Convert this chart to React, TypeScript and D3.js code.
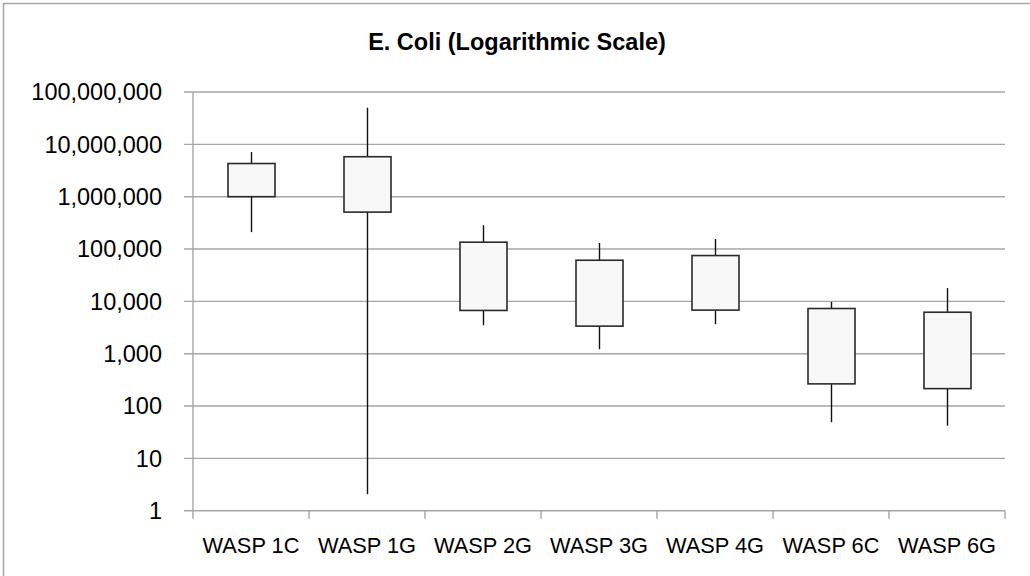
import React, { useEffect, useRef } from "react";
import * as d3 from "d3";

const sites = ["WASP 1C", "WASP 1G", "WASP 2G", "WASP 3G", "WASP 4G", "WASP 6C", "WASP 6G"];
const highs = [7100000, 50000000, 286000, 130000, 155000, 9800, 17900];
const boxTops = [4300000, 5800000, 135000, 61000, 75000, 7300, 6200];
const boxBottoms = [1000000, 507000, 6700, 3360, 6800, 265, 215];
const lows = [210000, 2.06, 3500, 1220, 3660, 49, 42];
const yTicks = [1, 10, 100, 1000, 10000, 100000, 1000000, 10000000, 100000000];

export default function App() {
  const ref = useRef<SVGSVGElement>(null);

  useEffect(() => {
    const svg = d3.select(ref.current);
    svg.selectAll("*").remove();

    const W = 1030, H = 576;
    const left = 193, right = 1005, top = 92, bottom = 510.7;
    const font = "'Liberation Sans', Arial, sans-serif";

    // chart border
    svg.append("rect")
      .attr("x", 3.5).attr("y", 3.5)
      .attr("width", W + 10).attr("height", H + 10)
      .attr("fill", "white")
      .attr("stroke", "#a6a6a6")
      .attr("stroke-width", 1.5);

    svg.append("text")
      .attr("x", 517).attr("y", 50)
      .attr("text-anchor", "middle")
      .style("font-family", font)
      .style("font-weight", "bold")
      .style("font-size", "23.5px")
      .text("E. Coli (Logarithmic Scale)");

    const x = d3.scaleBand().domain(sites).range([left, right]);
    const y = d3.scaleLog().domain([1, 100000000]).range([bottom, top]);

    // gridlines
    svg.append("g")
      .selectAll("line")
      .data(yTicks)
      .join("line")
      .attr("x1", left - 9).attr("x2", right)
      .attr("y1", d => y(d)).attr("y2", d => y(d))
      .attr("stroke", "#a6a6a6")
      .attr("stroke-width", 1.4);

    svg.append("g")
      .selectAll("text")
      .data(yTicks)
      .join("text")
      .attr("x", 162).attr("y", d => y(d))
      .attr("dy", "0.36em")
      .attr("text-anchor", "end")
      .style("font-family", font)
      .style("font-size", "23.5px")
      .text(d => d3.format(",")(d));

    // axes lines
    svg.append("line")
      .attr("x1", left).attr("x2", left)
      .attr("y1", top).attr("y2", bottom)
      .attr("stroke", "#a6a6a6").attr("stroke-width", 1.4);

    const bounds = sites.map(s => x(s) as number).concat([right]);
    svg.append("g")
      .selectAll("line")
      .data(bounds)
      .join("line")
      .attr("x1", d => d).attr("x2", d => d)
      .attr("y1", bottom).attr("y2", bottom + 8)
      .attr("stroke", "#a6a6a6").attr("stroke-width", 1.4);

    svg.append("g")
      .selectAll("text")
      .data(sites)
      .join("text")
      .attr("x", d => (x(d) as number) + x.bandwidth() / 2)
      .attr("y", 553)
      .attr("text-anchor", "middle")
      .style("font-family", font)
      .style("font-size", "21.8px")
      .text(d => d);

    const boxW = 47;
    const g = svg.append("g");
    sites.forEach((s, i) => {
      const cx = Math.round((x(s) as number) + x.bandwidth() / 2) + 0.5;
      g.append("line")
        .attr("x1", cx).attr("x2", cx)
        .attr("y1", y(highs[i])).attr("y2", y(lows[i]))
        .attr("stroke", "#111").attr("stroke-width", 1.4);
      g.append("rect")
        .attr("x", cx - boxW / 2)
        .attr("y", y(boxTops[i]))
        .attr("width", boxW)
        .attr("height", y(boxBottoms[i]) - y(boxTops[i]))
        .attr("fill", "#f8f8f8")
        .attr("stroke", "#2a2a2a")
        .attr("stroke-width", 1.6);
    });
  }, []);

  return (
    <svg
      ref={ref}
      width={1030}
      height={576}
      style={{ position: "absolute", left: 0, top: 0, background: "white" }}
    />
  );
}
